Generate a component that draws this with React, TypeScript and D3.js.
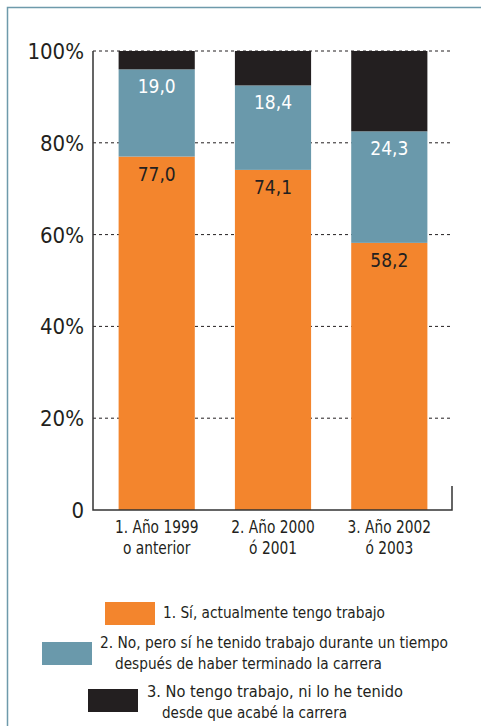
import * as d3 from 'd3';

const categories = ['1. Año 1999|o anterior', '2. Año 2000|ó 2001', '3. Año 2002|ó 2003'];
const trabajoSi = [77.0, 74.1, 58.2];
const trabajoAntes = [19.0, 18.4, 24.3];
const trabajoNunca = [4.0, 7.5, 17.5];
const yTicks = [0, 20, 40, 60, 80, 100];
const seriesKeys = ['si', 'antes', 'nunca'];
const seriesColors = ['#f3852d', '#6a99ab', '#231f20'];
const legendLines = [
  ['1. Sí, actualmente tengo trabajo'],
  ['2. No, pero sí he tenido trabajo durante un tiempo', 'después de haber terminado la carrera'],
  ['3. No tengo trabajo, ni lo he tenido', 'desde que acabé la carrera'],
];

const FONT = '"DejaVu Sans Condensed", "DejaVu Sans", sans-serif';
const INK = '#231f20';

export default function App() {
  const W = 481;
  const H = 726;
  const left = 93;
  const right = 452;
  const top = 51;
  const bottom = 510;

  const rows = categories.map((c, i) => ({ cat: c, si: trabajoSi[i], antes: trabajoAntes[i], nunca: trabajoNunca[i] }));
  const stack = d3.stack<any>().keys(seriesKeys)(rows);

  const x = d3.scaleBand<string>().domain(categories).range([100, 446]).paddingInner(0.345).paddingOuter(0.16);
  const y = d3.scaleLinear().domain([0, 100]).range([bottom, top]);

  const fmt = (v: number) => v.toFixed(1).replace('.', ',');

  // legend placement: rect, first text line, indent of second line, line widths
  const legendPos = [
    { rx: 105, ry: 602, tx: 163, ty: 618, indent: 0, widths: [222] },
    { rx: 42, ry: 642, tx: 100, ty: 648, indent: 15, widths: [348, 267] },
    { rx: 88, ry: 689, tx: 147, ty: 697, indent: 15, widths: [256, 185] },
  ];

  return (
    <svg width={W} height={H} style={{ position: 'absolute', left: 0, top: 0 }} fontFamily={FONT}>
      <rect x={0} y={0} width={W} height={H} fill="#fff" />
      <path d={`M7.5,${H}V7.5H${W}`} fill="none" stroke="#6e9aab" strokeWidth={1.5} />

      {/* gridlines */}
      {yTicks.filter((t) => t > 0).map((t) => (
        <line key={t} x1={left} x2={right} y1={y(t)} y2={y(t)} stroke={INK} strokeWidth={1} strokeDasharray="3,3" />
      ))}

      {/* bars */}
      {stack.map((s, si) =>
        s.map((d, i) => (
          <rect
            key={`${si}-${i}`}
            x={x(categories[i])}
            width={x.bandwidth()}
            y={y(d[1])}
            height={y(d[0]) - y(d[1])}
            fill={seriesColors[si]}
          />
        )),
      )}

      {/* segment labels */}
      {stack.slice(0, 2).map((s, si) =>
        s.map((d, i) => (
          <text
            key={`l${si}-${i}`}
            x={(x(categories[i]) ?? 0) + x.bandwidth() / 2}
            y={y(d[1]) + 24}
            textAnchor="middle"
            fontSize={19}
            fill={si === 0 ? INK : '#fff'}
          >
            {fmt(d[1] - d[0])}
          </text>
        )),
      )}

      {/* axes */}
      <path d={`M${left},${top}V${bottom}H${right}V${bottom - 24}`} fill="none" stroke="#333" strokeWidth={1.5} />
      {yTicks.map((t) => (
        <text key={t} x={84} y={y(t) + 8} textAnchor="end" fontSize={22} fill={INK}>
          {t === 0 ? '0' : `${t}%`}
        </text>
      ))}
      {categories.map((c) => (
        <g key={c} transform={`translate(${(x(c) ?? 0) + x.bandwidth() / 2},0) scale(0.9,1)`}>
          <text textAnchor="middle" fontSize={17} fill={INK}>
            {c.split('|').map((line, li) => (
              <tspan key={li} x={0} y={533 + li * 21}>
                {line}
              </tspan>
            ))}
          </text>
        </g>
      ))}

      {/* legend */}
      {legendLines.map((lines, i) => {
        const p = legendPos[i];
        return (
          <g key={i}>
            <rect x={p.rx} y={p.ry} width={50} height={23} fill={seriesColors[i]} />
            {lines.map((line, li) => (
              <text
                key={li}
                x={p.tx + (li ? p.indent : 0)}
                y={p.ty + li * 21}
                fontSize={16}
                fill={INK}
                textLength={p.widths[li]}
                lengthAdjust="spacingAndGlyphs"
              >
                {line}
              </text>
            ))}
          </g>
        );
      })}
    </svg>
  );
}
